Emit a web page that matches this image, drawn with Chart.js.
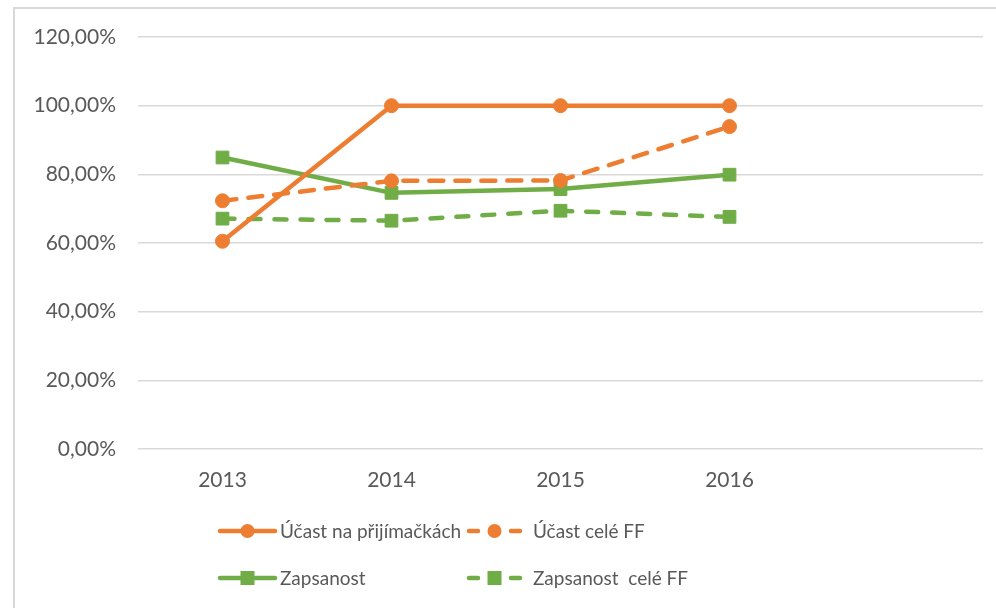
<!DOCTYPE html>
<html lang="cs">
<head>
<meta charset="UTF-8">
<title>Účast a zapsanost</title>
<script src="https://cdn.jsdelivr.net/npm/chart.js@4/dist/chart.umd.min.js"></script>
<style>
    html, body { margin: 0; padding: 0; background: #fff; overflow: hidden; }
    .wrap { position: relative; width: 996px; height: 608px; }
    .frame { position: absolute; left: 13px; top: 7px; width: 1010px; height: 640px;
             border: 2px solid #d9d9d9; box-sizing: border-box; }
    canvas { position: absolute; left: 0; top: 0; }
    .legend { position: absolute; font-family: Lato, sans-serif; font-size: 19px; color: #595959; white-space: pre; }
    .legend .item { position: absolute; display: flex; align-items: center; height: 24px; }
    .legend svg { display: block; }
</style>
</head>
<body>
<div class="wrap">
    <div class="frame"></div>
    <canvas id="chart" width="996" height="608"></canvas>
    <div class="legend" id="legend"></div>
</div>
<script>
    const years = ['2013', '2014', '2015', '2016', ''];
    const seriesNames = ['Účast na přijímačkách', 'Účast celé FF', 'Zapsanost', 'Zapsanost  celé FF'];
    const ucastPrijimacky = [60.5, 100, 100, 100, null];
    const ucastFF = [72.3, 78.1, 78.2, 93.9, null];
    const zapsanost = [84.9, 74.6, 75.7, 79.9, null];
    const zapsanostFF = [67.1, 66.5, 69.4, 67.6, null];
    const yTicks = [0, 20, 40, 60, 80, 100, 120];

    const orange = '#ed7d31';
    const green = '#70ad47';
    const textColor = '#595959';
    const font = { family: 'Lato, sans-serif', size: 21 };

    function lineSet(label, data, color, dashed, shape) {
        return {
            label: label,
            data: data,
            borderColor: color,
            backgroundColor: color,
            borderWidth: 4.5,
            borderDash: dashed || [],
            borderCapStyle: 'round',
            borderJoinStyle: 'round',
            pointStyle: shape,
            pointRadius: shape === 'rect' ? 9 : 7,
            pointBorderWidth: 1,
            pointBackgroundColor: color,
            pointBorderColor: color,
            tension: 0,
            spanGaps: false
        };
    }

    const ctx = document.getElementById('chart').getContext('2d');
    new Chart(ctx, {
        type: 'line',
        data: {
            labels: years,
            datasets: [
                lineSet(seriesNames[0], ucastPrijimacky, orange, null, 'circle'),
                lineSet(seriesNames[1], ucastFF, orange, [14, 12], 'circle'),
                lineSet(seriesNames[2], zapsanost, green, null, 'rect'),
                lineSet(seriesNames[3], zapsanostFF, green, [12, 14], 'rect')
            ]
        },
        options: {
            responsive: false,
            animation: false,
            layout: { padding: { top: 37, right: 13, left: 0, bottom: 0 } },
            plugins: {
                legend: { display: false },
                tooltip: { enabled: false }
            },
            scales: {
                x: {
                    offset: true,
                    grid: { display: false, drawTicks: false },
                    border: { display: false },
                    ticks: { color: textColor, font: font, padding: 19, maxRotation: 0 },
                    afterFit: s => { s.height = 159; }
                },
                y: {
                    min: 0,
                    max: 120,
                    afterBuildTicks: s => { s.ticks = yTicks.map(v => ({ value: v })); },
                    grid: { color: '#d9d9d9', lineWidth: 1.5, drawTicks: false },
                    border: { display: false },
                    ticks: {
                        color: textColor,
                        font: font,
                        padding: 22,
                        callback: v => v.toFixed(2).replace('.', ',') + '%'
                    },
                    afterFit: s => { s.width = 138; }
                }
            }
        }
    });

    // legenda: čára se značkou uprostřed, rozložení 2x2
    const legendItems = [
        { name: seriesNames[0], color: orange, dashed: false, shape: 'circle', x: 217, y: 531, w: 61, tx: 280 },
        { name: seriesNames[1], color: orange, dashed: true, shape: 'circle', x: 466, y: 531, w: 57, tx: 533 },
        { name: seriesNames[2], color: green, dashed: false, shape: 'rect', x: 217, y: 578, w: 61, tx: 280 },
        { name: seriesNames[3], color: green, dashed: true, shape: 'rect', x: 466, y: 578, w: 57, tx: 533 }
    ];
    const legend = document.getElementById('legend');
    legendItems.forEach(it => {
        const mid = it.w / 2;
        let lines;
        if (it.dashed) {
            lines = `<line x1="3" y1="12" x2="12" y2="12" stroke="${it.color}" stroke-width="4.5" stroke-linecap="round"/>` +
                    `<line x1="${it.w - 12}" y1="12" x2="${it.w - 3}" y2="12" stroke="${it.color}" stroke-width="4.5" stroke-linecap="round"/>`;
        } else {
            lines = `<line x1="3" y1="12" x2="${it.w - 3}" y2="12" stroke="${it.color}" stroke-width="4.5" stroke-linecap="round"/>`;
        }
        const marker = it.shape === 'circle'
            ? `<circle cx="${mid}" cy="12" r="7" fill="${it.color}"/>`
            : `<rect x="${mid - 7}" y="5" width="14" height="14" fill="${it.color}"/>`;
        const svg = `<svg width="${it.w}" height="24">${lines}${marker}</svg>`;
        const el = document.createElement('div');
        el.className = 'item';
        el.style.left = it.x + 'px';
        el.style.top = (it.y - 12) + 'px';
        el.innerHTML = svg;
        legend.appendChild(el);
        const t = document.createElement('div');
        t.className = 'item';
        t.style.left = it.tx + 'px';
        t.style.top = (it.y - 13) + 'px';
        t.textContent = it.name;
        legend.appendChild(t);
    });
</script>
</body>
</html>
